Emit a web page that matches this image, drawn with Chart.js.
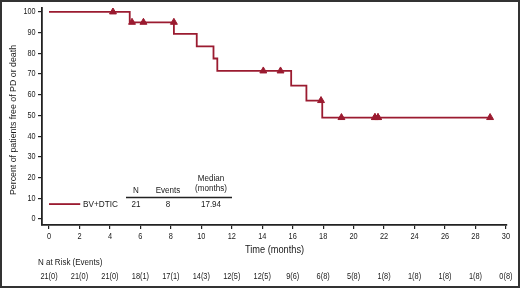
<!DOCTYPE html>
<html>
<head>
<meta charset="utf-8">
<script src="https://cdn.jsdelivr.net/npm/chart.js@4"></script>
<style>
  html, body { margin: 0; padding: 0; background: #fff; }
</style>
</head>
<body>
<canvas id="grafico" width="520" height="288"></canvas>
<script>
// Kaplan-Meier step values (time in months, percent free of PD or death)
const eventTimes = [0, 5.3, 8.2, 9.7, 10.8, 11.05, 15.9, 16.9, 17.94, 28.96];
const survival = [100, 95.0, 89.4, 83.4, 77.5, 71.5, 64.4, 57.2, 49.0, 49.0];

// censored observations (triangles)
const censorTimes = [4.2, 5.45, 6.2, 8.2, 14.07, 15.2, 17.86, 19.2, 21.4, 21.4, 21.6, 21.6, 28.96];
const censorValues = [100, 95.0, 95.0, 95.0, 71.5, 71.5, 57.2, 49.0, 49.0, 49.0, 49.0, 49.0, 49.0];

const xTicks = [0, 2, 4, 6, 8, 10, 12, 14, 16, 18, 20, 22, 24, 26, 28, 30];
const yTicks = [0, 10, 20, 30, 40, 50, 60, 70, 80, 90, 100];

// number at risk table
const riskTimes = [0, 2, 4, 6, 8, 10, 12, 14, 16, 18, 20, 22, 24, 26, 28, 30];
const atRisk = [21, 21, 21, 18, 17, 14, 12, 12, 9, 6, 5, 1, 1, 1, 1, 0];
const riskEvents = [0, 0, 0, 1, 1, 3, 5, 5, 6, 8, 8, 8, 8, 8, 8, 8];

const seriesName = "BV+DTIC";
const summaryN = "21";
const summaryEvents = "8";
const summaryMedian = "17.94";

const corLinha = "#9b1b30";
const corTexto = "#1a1a1a";
const corEixo = "#222";
const fonte = "'Liberation Sans', Arial, Helvetica, sans-serif";
const aperto = 0.84; // texto estreito como no original

function texto(ctx, str, x, y, tam, alinh) {
  ctx.save();
  ctx.translate(x, y);
  ctx.scale(aperto, 1);
  ctx.font = tam + "px " + fonte;
  ctx.textAlign = alinh;
  ctx.fillText(str, 0, 0);
  ctx.restore();
}

const extras = {
  id: "extras",
  afterDraw(chart) {
    const ctx = chart.ctx;
    const x = chart.scales.x;
    const y = chart.scales.y;
    ctx.save();

    // moldura
    ctx.strokeStyle = "#333";
    ctx.lineWidth = 2;
    ctx.strokeRect(1, 1, 518, 286);

    ctx.fillStyle = corTexto;
    ctx.textBaseline = "middle";

    // rotulos dos eixos
    yTicks.forEach(v => texto(ctx, String(v), 35.5, y.getPixelForValue(v), 8.6, "right"));
    xTicks.forEach(v => texto(ctx, String(v), x.getPixelForValue(v), 236.5, 8.8, "center"));

    // titulo eixo y
    ctx.save();
    ctx.translate(14, 120);
    ctx.rotate(-Math.PI / 2);
    ctx.textAlign = "center";
    ctx.font = "8.8px " + fonte;
    ctx.fillText("Percent of patients free of PD or death", 0, 0);
    ctx.restore();

    // titulo eixo x
    texto(ctx, "Time (months)", (chart.chartArea.left + chart.chartArea.right) / 2, 250, 11, "center");

    // legenda com tabela
    const ly = y.getPixelForValue(7.2);
    ctx.strokeStyle = corLinha;
    ctx.lineWidth = 1.8;
    ctx.beginPath();
    ctx.moveTo(x.getPixelForValue(0), ly);
    ctx.lineTo(x.getPixelForValue(2.05), ly);
    ctx.stroke();

    texto(ctx, seriesName, 83, ly, 9.8, "left");
    texto(ctx, summaryN, 136, ly, 9.6, "center");
    texto(ctx, summaryEvents, 168, ly, 9.6, "center");
    texto(ctx, summaryMedian, 211, ly, 9.6, "center");

    texto(ctx, "N", 136, 190, 9.6, "center");
    texto(ctx, "Events", 168, 190, 9.6, "center");
    texto(ctx, "Median", 211, 178, 9.6, "center");
    texto(ctx, "(months)", 211, 188.5, 9.6, "center");

    ctx.strokeStyle = corEixo;
    ctx.lineWidth = 1.6;
    ctx.beginPath();
    ctx.moveTo(126, 197.5);
    ctx.lineTo(232, 197.5);
    ctx.stroke();

    // tabela de risco
    texto(ctx, "N at Risk (Events)", 38, 262.5, 9.5, "left");
    riskTimes.forEach((t, i) => {
      texto(ctx, atRisk[i] + "(" + riskEvents[i] + ")", x.getPixelForValue(t), 277, 8.8, "center");
    });

    ctx.restore();
  }
};

new Chart(document.getElementById("grafico"), {
  type: "scatter",
  data: {
    datasets: [{
      label: seriesName,
      data: eventTimes.map((t, i) => ({ x: t, y: survival[i] })),
      showLine: true,
      stepped: "before",
      borderColor: corLinha,
      backgroundColor: corLinha,
      borderWidth: 1.8,
      pointRadius: 0
    }, {
      label: "censored",
      data: censorTimes.map((t, i) => ({ x: t, y: censorValues[i] })),
      showLine: false,
      pointStyle: "triangle",
      pointRadius: 4,
      borderColor: corLinha,
      backgroundColor: corLinha,
      borderWidth: 1
    }]
  },
  options: {
    responsive: false,
    animation: false,
    devicePixelRatio: 1,
    layout: { padding: { left: 0, right: 13, top: 8, bottom: 0 } },
    plugins: {
      legend: { display: false },
      tooltip: { enabled: false }
    },
    scales: {
      x: {
        type: "linear",
        min: -0.46,
        max: 30.07,
        afterBuildTicks: s => { s.ticks = xTicks.map(v => ({ value: v })); },
        afterFit: s => { s.height = 63; },
        grid: { drawOnChartArea: false, drawTicks: true, tickLength: 4, color: corEixo, lineWidth: 1.2 },
        border: { display: true, color: corEixo, width: 1.8 },
        ticks: { display: false }
      },
      y: {
        type: "linear",
        min: -2.9,
        max: 101.9,
        afterBuildTicks: s => { s.ticks = yTicks.map(v => ({ value: v })); },
        afterFit: s => { s.width = 42; },
        grid: { drawOnChartArea: false, drawTicks: true, tickLength: 4, color: corEixo, lineWidth: 1.2 },
        border: { display: true, color: corEixo, width: 1.8 },
        ticks: { display: false }
      }
    }
  },
  plugins: [extras]
});
</script>
</body>
</html>
